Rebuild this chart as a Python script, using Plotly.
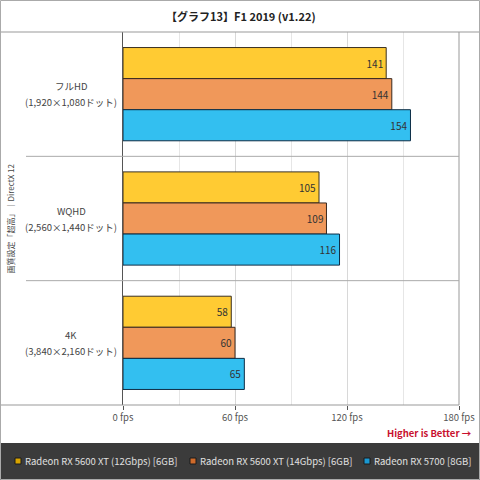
import plotly.graph_objects as go

title = "【グラフ13】F1 2019 (v1.22)"
cat_names = ["フルHD", "WQHD", "4K"]
cat_res = ["(1,920×1,080ドット)", "(2,560×1,440ドット)", "(3,840×2,160ドット)"]
series_names = ["Radeon RX 5600 XT (12Gbps) [6GB]", "Radeon RX 5600 XT (14Gbps) [6GB]", "Radeon RX 5700 [8GB]"]
vals_12gbps = [141, 105, 58]
vals_14gbps = [144, 109, 60]
vals_5700 = [154, 116, 65]
tick_vals = [0, 60, 120, 180]
tick_text = ["0 fps", "60 fps", "120 fps", "180 fps"]
y_title = "画質設定「超高」｜DirectX 12"
note = "Higher is Better →"

bar_colors = ["#FFCB33", "#F0985A", "#33BFF0"]
edge_colors = ["#3a3020", "#3a2a20", "#0d2c45"]
legend_colors = ["#D9A400", "#CF6A2A", "#1A98D2"]
series = [vals_12gbps, vals_14gbps, vals_5700]
categories = cat_names

FONT = "Noto Sans CJK JP"
fig = go.Figure()
for name, vals, c, e in zip(series_names, series, bar_colors, edge_colors):
    fig.add_trace(go.Bar(
        y=categories, x=vals, orientation="h", name=name,
        marker=dict(color=c, line=dict(color=e, width=1)),
        text=[str(v) for v in vals], textposition="inside", insidetextanchor="end",
        textfont=dict(size=10, color="#333333", family=FONT),
        constraintext="none", showlegend=False, hoverinfo="skip"))

# plot area: x 123..459, y 32..405 (px)
L, R, T, B = 123, 21, 32, 75
W, H = 480 - L - R, 480 - T - B
def px(x): return (x - L) / W
def py(y): return (480 - B - y) / H

shapes = [
    dict(type="rect", xref="paper", yref="paper", x0=px(0), x1=px(480), y0=py(480), y1=py(443),
         fillcolor="#3b3b3b", line=dict(width=0), layer="below"),
    dict(type="line", xref="paper", yref="paper", x0=px(0), x1=px(480), y0=py(32), y1=py(32),
         line=dict(color="#999999", width=1)),
    dict(type="line", xref="paper", yref="paper", x0=px(0), x1=1, y0=0, y1=0,
         line=dict(color="#999999", width=1)),
    dict(type="line", xref="paper", yref="paper", x0=1, x1=1, y0=0, y1=1,
         line=dict(color="#999999", width=1)),
    dict(type="rect", xref="paper", yref="paper", x0=px(0.5), x1=px(479.5), y0=py(479.5), y1=py(0.5),
         line=dict(color="#aaaaaa", width=1)),
]
for b in [0.5, 1.5]:
    shapes.append(dict(type="line", xref="paper", yref="y", x0=px(26), x1=1, y0=b, y1=b,
                       line=dict(color="#aaaaaa", width=1)))

annotations = [
    dict(text="<b>" + title + "</b>", xref="paper", yref="paper", x=px(241), y=py(16),
         showarrow=False, font=dict(size=11, color="#222", family=FONT), xanchor="center", yanchor="middle"),
    dict(text=y_title, xref="paper", yref="paper", x=px(10), y=0.5, textangle=-90,
         showarrow=False, font=dict(size=8, color="#444", family=FONT), xanchor="center", yanchor="middle"),
    dict(text="<b>" + note + "</b>", xref="paper", yref="paper", x=px(474), y=py(433),
         showarrow=False, font=dict(size=9.5, color="#C8102E", family=FONT), xanchor="right", yanchor="middle"),
]
for c, r in zip(cat_names, cat_res):
    annotations.append(dict(text=c, xref="paper", yref="y", x=px(71), y=c, yshift=8, showarrow=False,
                            xanchor="center", yanchor="middle", font=dict(size=9.5, color="#444", family=FONT)))
    annotations.append(dict(text=r, xref="paper", yref="y", x=px(71), y=c, yshift=-8, showarrow=False,
                            xanchor="center", yanchor="middle", font=dict(size=9.5, color="#444", family=FONT)))

# manual legend in the dark footer
legend_swatch_x = [15, 190, 364]
for name, lc, sx in zip(series_names, legend_colors, legend_swatch_x):
    shapes.append(dict(type="rect", xref="paper", yref="paper", x0=px(sx), x1=px(sx + 6),
                       y0=py(464), y1=py(458), fillcolor=lc, line=dict(color="#1a1a1a", width=1)))
    annotations.append(dict(text=name, xref="paper", yref="paper", x=px(sx + 8), y=py(461),
                            xanchor="left", yanchor="middle", showarrow=False,
                            font=dict(size=9.5, color="#e0e0e0", family=FONT)))

fig.update_layout(
    width=480, height=480, margin=dict(l=L, r=R, t=T, b=B, autoexpand=False),
    paper_bgcolor="white", plot_bgcolor="white",
    barmode="group", bargap=0.25, bargroupgap=0, showlegend=False,
    font=dict(family=FONT, size=10, color="#444"),
    xaxis=dict(range=[0, 180], tickvals=tick_vals, ticktext=tick_text, showgrid=True,
               gridcolor="#d8d8d8", ticks="outside", ticklen=4, tickcolor="#555",
               zeroline=False, showline=False, tickfont=dict(size=9.5, color="#555"),
               minor=dict(dtick=30, showgrid=True, gridcolor="#e6e6e6"), fixedrange=True),
    yaxis=dict(autorange="reversed", showticklabels=False, showgrid=False, showline=True,
               linecolor="#555", linewidth=1, ticks="", zeroline=False),
    shapes=shapes, annotations=annotations,
)
fig.write_html("out.html", config={"displayModeBar": False},
               post_script="document.body.style.margin='0';")
